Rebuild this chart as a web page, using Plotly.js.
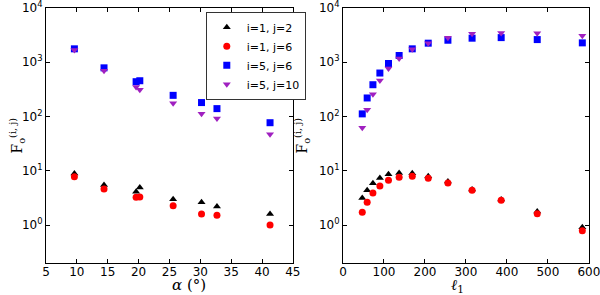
<!DOCTYPE html>
<html><head><meta charset="utf-8">
<script src="https://cdn.plot.ly/plotly-3.0.1.min.js"></script>
<style>html,body{margin:0;padding:0;background:#fff}</style>
</head><body>
<div id="chart" style="width:600px;height:295px"></div>
<script>
// Left panel: alpha (degrees)
const alpha = [9.6, 14.4, 19.6, 20.2, 25.6, 30.2, 32.7, 41.3];
const a_i1j2 = [8.9, 5.5, 4.1, 4.9, 3.0, 2.64, 2.2, 1.6];
const a_i1j6 = [7.8, 4.6, 3.27, 3.3, 2.26, 1.6, 1.52, 1.0];
const a_i5j6 = [1770, 790, 439, 457, 246, 181, 140, 77];
const a_i5j10 = [1690, 698, 351, 313, 175, 113, 92, 47];
// Right panel: l1
const ell = [47, 59, 73, 90, 111, 137, 169, 208, 256, 315, 386, 474, 584];
const l_i1j2 = [3.17, 4.39, 5.9, 7.38, 8.63, 9.1, 9.0, 7.94, 6.34, 4.52, 2.97, 1.78, 0.91];
const l_i1j6 = [1.73, 2.64, 3.92, 5.26, 6.7, 7.6, 7.94, 7.28, 5.97, 4.39, 2.88, 1.61, 0.79];
const l_i5j6 = [112, 220, 386, 634, 951, 1333, 1770, 2250, 2550, 2780, 2850, 2620, 2280];
const l_i5j10 = [62, 134, 257, 464, 769, 1175, 1746, 2250, 2820, 3340, 3480, 3430, 3100];
const seriesNames = ["i=1, j=2", "i=1, j=6", "i=5, j=6", "i=5, j=10"];
const yTickVals = [1, 10, 100, 1000, 10000];
const yTickText = ["10<sup>0</sup>", "10<sup>1</sup>", "10<sup>2</sup>", "10<sup>3</sup>", "10<sup>4</sup>"];
const xTickVals = [5, 10, 15, 20, 25, 30, 35, 40, 45];
const x2TickVals = [0, 100, 200, 300, 400, 500, 600];

const styles = [
  {symbol: "triangle-up", color: "#000000", size: 7},
  {symbol: "circle", color: "#ff0000", size: 7},
  {symbol: "square", color: "#0000ff", size: 7},
  {symbol: "triangle-down", color: "#a020c0", size: 7}
];
const leftY = [a_i1j2, a_i1j6, a_i5j6, a_i5j10];
const rightY = [l_i1j2, l_i1j6, l_i5j6, l_i5j10];
const traces = [];
leftY.forEach((y, k) => traces.push({
  x: alpha, y: y, type: "scatter", mode: "markers", name: seriesNames[k],
  marker: {symbol: styles[k].symbol, color: styles[k].color, size: styles[k].size, line: {width: 0}},
  xaxis: "x", yaxis: "y", showlegend: true, cliponaxis: false
}));
rightY.forEach((y, k) => traces.push({
  x: ell, y: y, type: "scatter", mode: "markers", name: seriesNames[k],
  marker: {symbol: styles[k].symbol, color: styles[k].color, size: styles[k].size, line: {width: 0}},
  xaxis: "x2", yaxis: "y2", showlegend: false, cliponaxis: false
}));

const axBase = {
  showline: true, linecolor: "#000", linewidth: 1, mirror: "ticks",
  ticks: "inside", ticklen: 4, tickcolor: "#000", showgrid: false, zeroline: false,
  ticklabeloverflow: "allow",
  tickfont: {family: "DejaVu Sans", size: 12, color: "#000"}
};
const yAx = Object.assign({}, axBase, {
  type: "log", range: [Math.log10(0.2), 4.0005], tickmode: "array", tickvals: yTickVals, ticktext: yTickText
});
const layout = {
  width: 600, height: 295,
  margin: {l: 0, r: 0, t: 8, b: 32},
  paper_bgcolor: "#fff", plot_bgcolor: "#fff",
  showlegend: true,
  legend: {
    x: 0.343, y: 0.985, xanchor: "left", yanchor: "top",
    bordercolor: "#333", borderwidth: 1, bgcolor: "#fff",
    font: {family: "DejaVu Sans", size: 11, color: "#000"},
    tracegroupgap: 0, itemwidth: 30
  },
  xaxis: Object.assign({}, axBase, {domain: [46/600, 293/600], range: [5, 45.02], tickmode: "array", tickvals: xTickVals, anchor: "y", ticklabelstandoff: -2}),
  yaxis: Object.assign({}, yAx, {anchor: "x"}),
  xaxis2: Object.assign({}, axBase, {domain: [343/600, 589/600], range: [0, 600.3], tickmode: "array", tickvals: x2TickVals, anchor: "y2", ticklabelstandoff: -2}),
  yaxis2: Object.assign({}, yAx, {anchor: "x2"}),
  annotations: [
    {xref: "paper", yref: "paper", x: 5/600, y: 0.5, textangle: -90, showarrow: false,
     text: "F<sub>o</sub><sup>(i, j)</sup>", font: {family: "DejaVu Serif", size: 14, color: "#000"}},
    {xref: "paper", yref: "paper", x: 302/600, y: 0.5, textangle: -90, showarrow: false,
     text: "F<sub>o</sub><sup>(i, j)</sup>", font: {family: "DejaVu Serif", size: 14, color: "#000"}},
    {xref: "paper", yref: "paper", x: 170/600, y: -22/255, yanchor: "middle", showarrow: false,
     text: "<i>α</i> (°)", font: {family: "DejaVu Serif", size: 15, color: "#000"}},
    {xref: "paper", yref: "paper", x: 466/600, y: -22/255, yanchor: "middle", showarrow: false,
     text: "<i>ℓ</i><sub>1</sub>", font: {family: "DejaVu Serif", size: 15, color: "#000"}}
  ]
};
Plotly.newPlot("chart", traces, layout, {displayModeBar: false, staticPlot: true});
</script>
</body></html>
